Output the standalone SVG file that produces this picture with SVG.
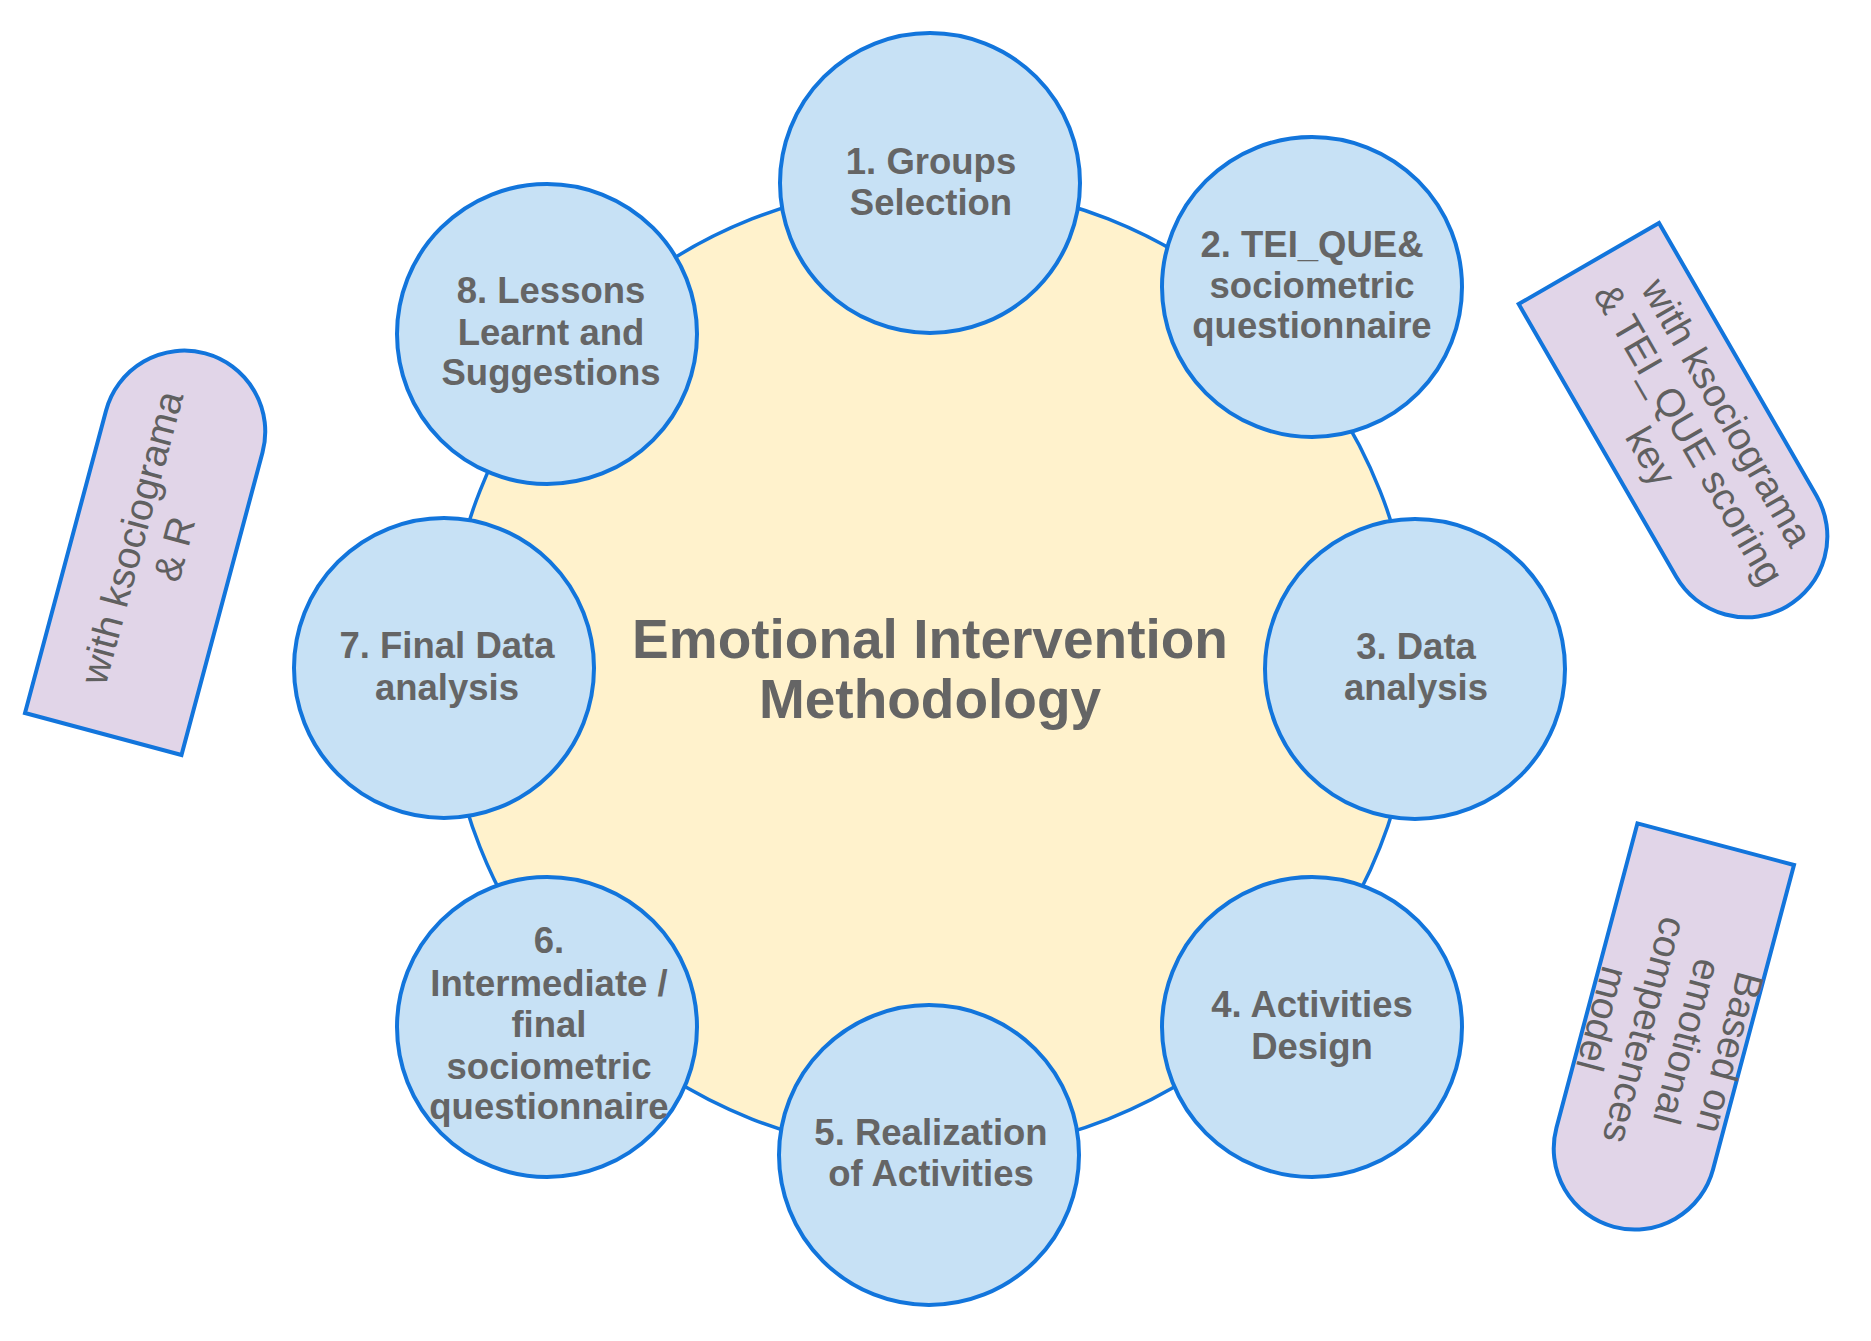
<svg xmlns="http://www.w3.org/2000/svg" width="1871" height="1341" viewBox="0 0 1871 1341">
<style>
.step{fill:#c7e1f5;stroke:#1275dc;stroke-width:4}
.ring{fill:#fff2cc;stroke:#1275dc;stroke-width:3.5}
.lbl{fill:#e1d5e8;stroke:#1275dc;stroke-width:4;stroke-linejoin:miter}
.t{font-family:"Liberation Sans",Arial,sans-serif;font-weight:bold;font-size:36.5px;fill:#656565;text-anchor:middle}
.title{font-family:"Liberation Sans",Arial,sans-serif;font-weight:bold;font-size:55px;fill:#656565;text-anchor:middle}
.lt{font-family:"Liberation Sans",Arial,sans-serif;font-size:39px;fill:#606060;text-anchor:middle}
</style>
<rect width="1871" height="1341" fill="#ffffff"/>
<g id="methodology">
<circle class="ring" cx="930" cy="669" r="484"/>
<text class="title"><tspan x="930" y="658">Emotional Intervention</tspan><tspan x="930" y="718">Methodology</tspan></text>
</g>
<g id="connectors"></g>
<g id="step1"><circle class="step" cx="930" cy="183" r="150"/>
<text class="t"><tspan x="931" y="174">1. Groups</tspan><tspan x="931" y="215">Selection</tspan></text></g>
<g id="step2"><circle class="step" cx="1312" cy="287" r="150"/>
<text class="t"><tspan x="1312" y="257">2. TEI_QUE&amp;</tspan><tspan x="1312" y="298">sociometric</tspan><tspan x="1312" y="338">questionnaire</tspan></text></g>
<g id="step3"><circle class="step" cx="1415" cy="669" r="150"/>
<text class="t"><tspan x="1416" y="659">3. Data</tspan><tspan x="1416" y="700">analysis</tspan></text></g>
<g id="step4"><circle class="step" cx="1312" cy="1027" r="150"/>
<text class="t"><tspan x="1312" y="1017">4. Activities</tspan><tspan x="1312" y="1059">Design</tspan></text></g>
<g id="step5"><circle class="step" cx="929" cy="1155" r="150"/>
<text class="t"><tspan x="931" y="1145">5. Realization</tspan><tspan x="931" y="1186">of Activities</tspan></text></g>
<g id="step6"><circle class="step" cx="547" cy="1027" r="150"/>
<text class="t"><tspan x="549" y="953">6.</tspan><tspan x="549" y="996">Intermediate /</tspan><tspan x="549" y="1037">final</tspan><tspan x="549" y="1079">sociometric</tspan><tspan x="549" y="1119">questionnaire</tspan></text></g>
<g id="step7"><circle class="step" cx="444" cy="668" r="150"/>
<text class="t"><tspan x="447" y="658">7. Final Data</tspan><tspan x="447" y="700">analysis</tspan></text></g>
<g id="step8"><circle class="step" cx="547" cy="334" r="150"/>
<text class="t"><tspan x="551" y="303">8. Lessons</tspan><tspan x="551" y="345">Learnt and</tspan><tspan x="551" y="385">Suggestions</tspan></text></g>
<g id="note-left" transform="translate(25,713) rotate(15)">
<path class="lbl" d="M0,0 H162 V-313 A81,81 0 0 0 0,-313 Z"/>
<text class="lt" transform="translate(81,-197) rotate(-90)"><tspan x="0" y="-10">with ksociograma</tspan><tspan x="0" y="34">&amp; R</tspan></text>
</g>
<g id="note-top-right" transform="translate(1659,223) rotate(150)">
<path class="lbl" d="M0,0 H162 V-315 A81,81 0 0 0 0,-315 Z"/>
<text class="lt" transform="translate(81,-198) rotate(-90)"><tspan x="0" y="-32">with ksociograma</tspan><tspan x="0" y="12">&amp; TEI_QUE scoring</tspan><tspan x="0" y="56">key</tspan></text>
</g>
<g id="note-bottom-right" transform="translate(1794,865) rotate(194.9)">
<path class="lbl" d="M0,0 H162 V-315 A81,81 0 0 0 0,-315 Z"/>
<text class="lt" transform="translate(81,-198) rotate(-90)"><tspan x="0" y="-54">Based on</tspan><tspan x="0" y="-10">emotional</tspan><tspan x="0" y="34">competences</tspan><tspan x="0" y="78">model</tspan></text>
</g>
</svg>
